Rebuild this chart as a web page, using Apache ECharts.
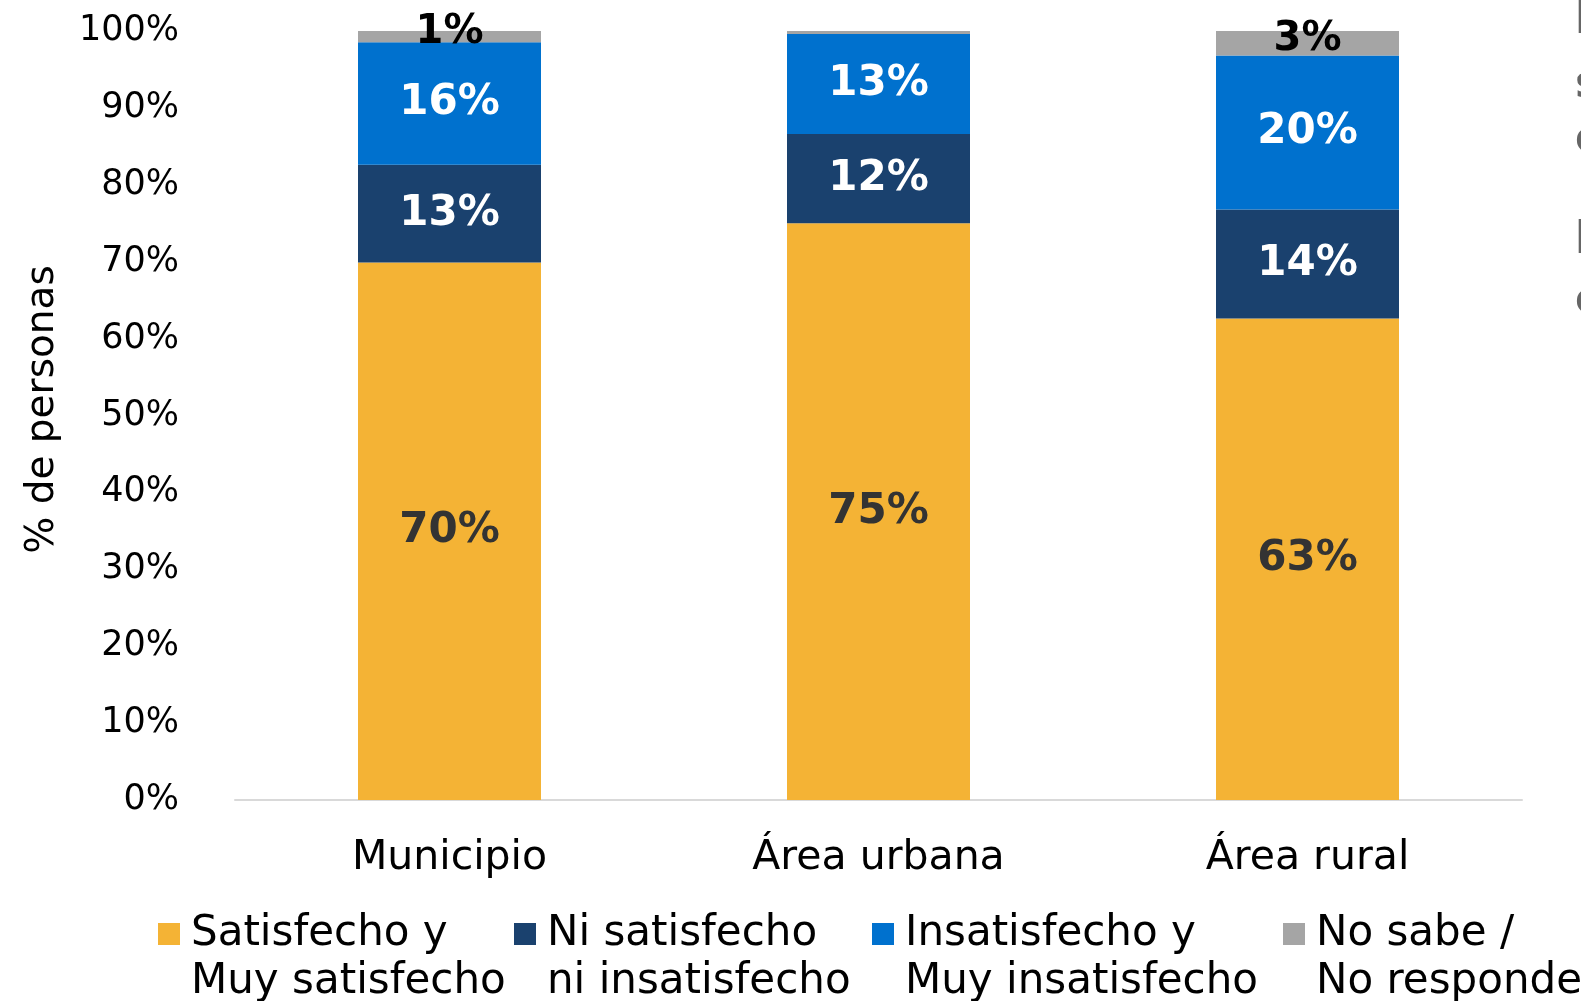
<!DOCTYPE html>
<html>
<head>
<meta charset="utf-8">
<script src="https://cdn.jsdelivr.net/npm/echarts@6/dist/echarts.min.js"></script>
<style>
  html, body { margin: 0; padding: 0; background: #fff; }
  #chart { width: 1581px; height: 1001px; }
</style>
</head>
<body>
<div id="chart"></div>
<script>
// 类目与各分组数值（百分比）
const categories = ["Municipio", "Área urbana", "Área rural"];
const satisfecho = [69.9, 75.0, 62.6];
const niSatisfecho = [12.7, 11.6, 14.2];
const insatisfecho = [15.95, 13.0, 20.0];
const noSabe = [1.45, 0.4, 3.2];
const seriesNames = [
  "Satisfecho y\nMuy satisfecho",
  "Ni satisfecho\nni insatisfecho",
  "Insatisfecho y\nMuy insatisfecho",
  "No sabe /\nNo responde",
];

const FONT = "DejaVu Sans";
const colors = ["#F4B335", "#1A416E", "#0071CE", "#A5A5A5"];
const labelColors = ["#333333", "#ffffff", "#ffffff", "#000000"];
const seriesData = [satisfecho, niSatisfecho, insatisfecho, noSabe];

const chart = echarts.init(document.getElementById("chart"));

// 图例：每项单独定位，图标与第一行文字对齐
const legendLefts = [158, 514, 872, 1283];
const legends = seriesNames.map((name, i) => ({
  data: [name],
  left: legendLefts[i],
  top: 862,
  padding: 0,
  icon: "rect",
  itemWidth: 22,
  itemHeight: 22,
  itemGap: 0,
  selectedMode: false,
  formatter: (n) =>
    ["{t| }"].concat(n.split("\n").map((s) => "{t|" + s + "}")).join("\n"),
  textStyle: {
    fontFamily: FONT,
    fontSize: 42,
    lineHeight: 48,
    color: "#000",
    rich: {
      t: {
        fontFamily: FONT,
        fontSize: 42,
        lineHeight: 48,
        color: "#000",
        padding: [0, 0, 0, 6],
      },
    },
  },
}));

const series = seriesNames.map((name, i) => ({
  name: name,
  type: "bar",
  stack: "total",
  barWidth: 183,
  data: seriesData[i],
  itemStyle: { color: colors[i] },
  label: {
    show: true,
    position: "inside",
    offset: i === 3 ? [0, -4] : [0, 0],
    fontFamily: FONT,
    fontWeight: "bold",
    fontSize: i === 3 ? 40 : 42,
    color: labelColors[i],
    formatter: (p) => (p.value < 1 ? "" : Math.round(p.value) + "%"),
  },
}));

chart.setOption({
  animation: false,
  grid: { left: 235, right: 59, top: 31, bottom: 201 },
  legend: legends,
  xAxis: {
    type: "category",
    data: categories,
    axisLine: { lineStyle: { color: "#d9d9d9", width: 2 } },
    axisTick: { show: false },
    axisLabel: {
      fontFamily: FONT,
      fontSize: 41,
      lineHeight: 40,
      color: "#000",
      margin: 38,
    },
  },
  yAxis: {
    type: "value",
    min: 0,
    max: 100,
    interval: 10,
    name: "% de personas",
    nameLocation: "middle",
    nameGap: 173,
    nameTextStyle: { fontFamily: FONT, fontSize: 39, color: "#000", padding: [0, 0, 0, 12] },
    splitLine: { show: false },
    axisLine: { show: false },
    axisLabel: {
      fontFamily: FONT,
      fontSize: 35,
      color: "#000",
      margin: 56,
      formatter: "{value}%",
    },
  },
  // 右侧被裁切的文字残影
  graphic: [
    { type: "text", left: 1575, top: 0, style: { text: "l", fontFamily: FONT, fontSize: 44, fontWeight: "bold", fill: "#666" } },
    { type: "text", left: 1575, top: 64, style: { text: "s", fontFamily: FONT, fontSize: 44, fontWeight: "bold", fill: "#666" } },
    { type: "text", left: 1575, top: 119, style: { text: "c", fontFamily: FONT, fontSize: 44, fontWeight: "bold", fill: "#666" } },
    { type: "text", left: 1575, top: 220, style: { text: "l", fontFamily: FONT, fontSize: 44, fontWeight: "bold", fill: "#666" } },
    { type: "text", left: 1575, top: 280, style: { text: "c", fontFamily: FONT, fontSize: 44, fontWeight: "bold", fill: "#666" } },
  ],
  series: series,
});
</script>
</body>
</html>
